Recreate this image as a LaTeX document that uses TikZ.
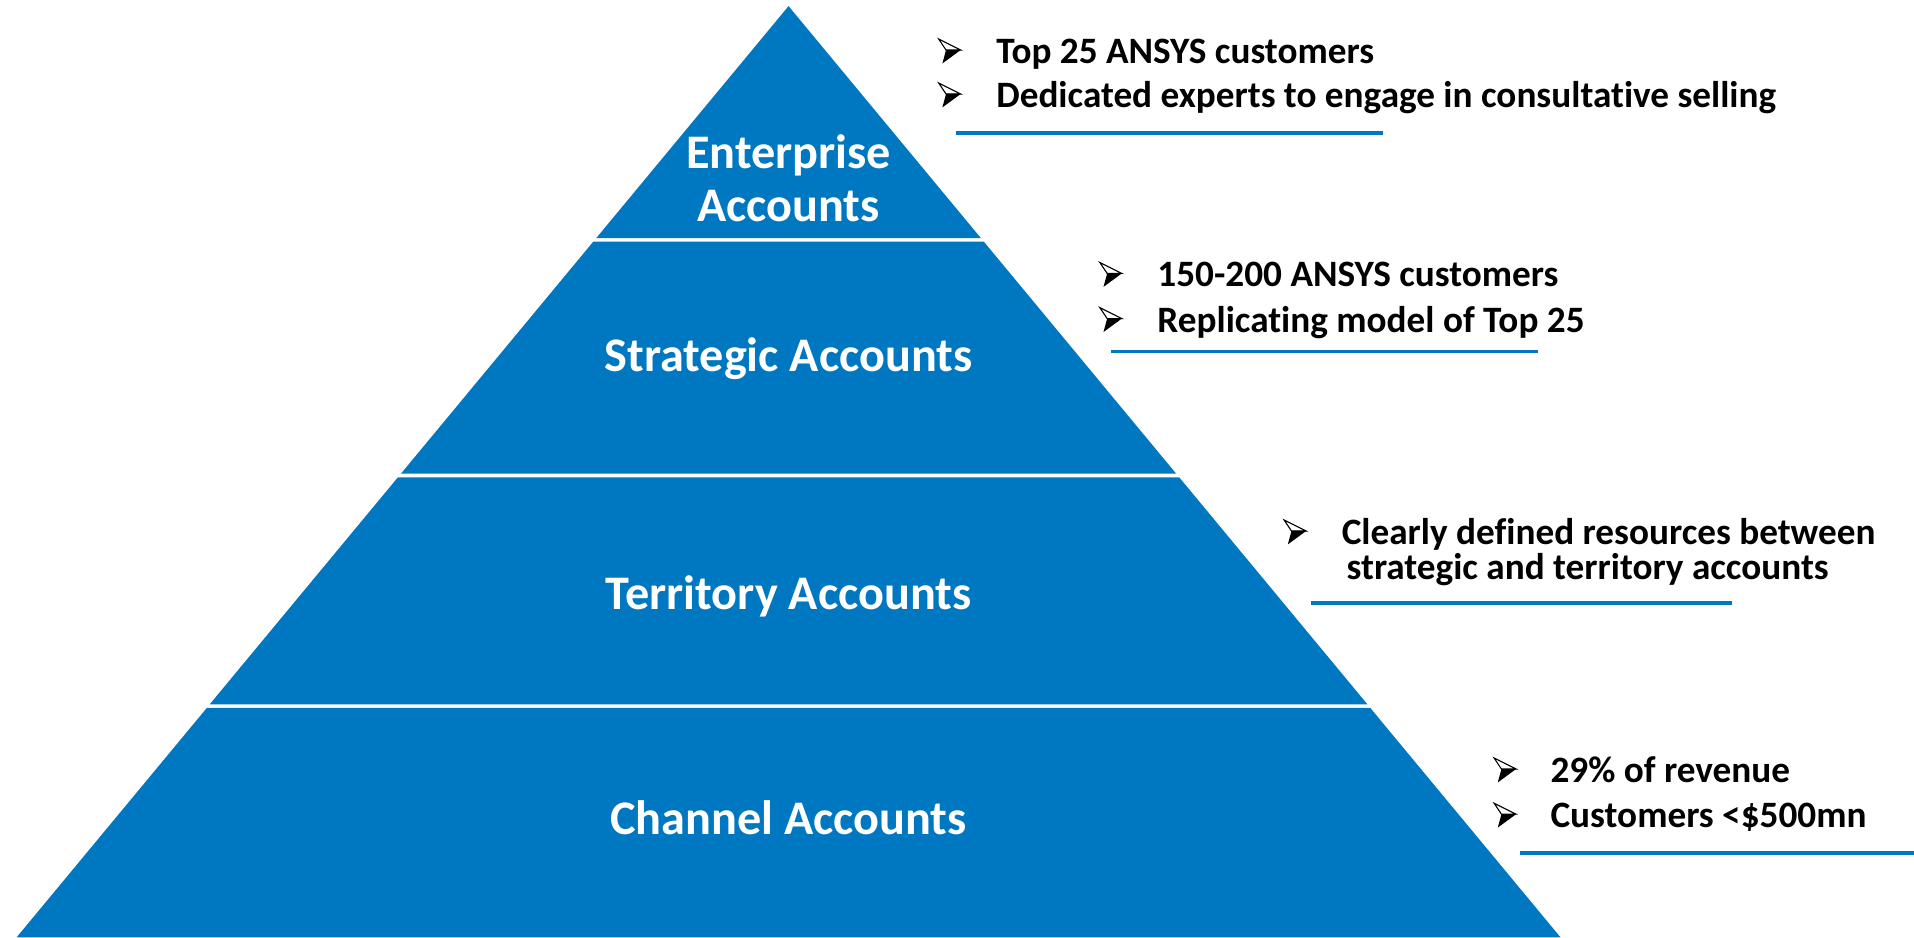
\documentclass[tikz,border=0pt]{standalone}
\usepackage{fontspec}
\setmainfont[Ligatures=NoCommon]{Carlito}
\definecolor{pyrblue}{RGB}{0,120,193}
\tikzset{
  layer/.style={fill=pyrblue},
  lbl/.style={text=white, font=\bfseries\fontsize{39.5}{43.6}\selectfont, anchor=base, inner sep=0pt, align=center},
  itemtxt/.style={font=\bfseries\fontsize{30.5}{31}\selectfont, anchor=base west, inner sep=0pt},
  rulebar/.style={draw=pyrblue, line width=3pt},
  arrowbullet/.pic={
    \draw[black, line width=0.9pt, fill=white, line join=miter] (1,-20) -- (19,-11) -- (7,-11) -- cycle;
    \fill[black] (7,-11) -- (19,-11) -- (4,0) -- cycle;
  }
}
\begin{document}
\begin{tikzpicture}[x=1pt,y=-1pt]
\useasboundingbox (0,0) rectangle (1568,768);
% layers
\fill[layer] (646,5) -- (803.5,195) -- (488.5,195) -- cycle;
\fill[layer] (486,198) -- (806,198) -- (963.5,388) -- (328.5,388) -- cycle;
\fill[layer] (326,391) -- (966,391) -- (1120.2,577) -- (171.8,577) -- cycle;
\fill[layer] (169.4,580) -- (1122.6,580) -- (1278.5,768) -- (13.5,768) -- cycle;
% labels
\node[lbl] (ent) at (646,138) {Enterprise};
\node[lbl] (ent2) at (646,181.6) {Accounts};
\node[lbl] (str) at (646,304) {Strategic Accounts};
\node[lbl] (ter) at (646,499) {Territory Accounts};
\node[lbl] (cha) at (646,684) {Channel Accounts};
% group 1
\coordinate (b11) at (768,52); \path (b11) pic {arrowbullet};
\node[itemtxt] (t11) at (816,52) {Top 25 ANSYS customers};
\coordinate (b12) at (768,88); \path (b12) pic {arrowbullet};
\node[itemtxt] (t12) at (816,88) {Dedicated experts to engage in consultative selling};
\coordinate (u1a) at (783,109); \coordinate (u1b) at (1133,109);
\draw[rulebar] (u1a) -- (u1b);
% group 2
\coordinate (b21) at (900,235); \path (b21) pic {arrowbullet};
\node[itemtxt] (t21) at (948,235) {150-200 ANSYS customers};
\coordinate (b22) at (900,272); \path (b22) pic {arrowbullet};
\node[itemtxt] (t22) at (948,272) {Replicating model of Top 25};
\coordinate (u2a) at (910,288); \coordinate (u2b) at (1260,288);
\draw[rulebar] (u2a) -- (u2b);
% group 3
\coordinate (b31) at (1051,446); \path (b31) pic {arrowbullet};
\node[itemtxt] (t31) at (1099,446) {Clearly defined resources between};
\node[itemtxt] (t32) at (1103,475) {strategic and territory accounts};
\coordinate (u3a) at (1074,494); \coordinate (u3b) at (1419,494);
\draw[rulebar] (u3a) -- (u3b);
% group 4
\coordinate (b41) at (1223,641); \path (b41) pic {arrowbullet};
\node[itemtxt] (t41) at (1270,641) {29\% of revenue};
\coordinate (b42) at (1223,678); \path (b42) pic {arrowbullet};
\node[itemtxt] (t42) at (1270,678) {Customers <\$500mn};
\coordinate (u4a) at (1245,699); \coordinate (u4b) at (1568,699);
\draw[rulebar] (u4a) -- (u4b);
\end{tikzpicture}
\end{document}
